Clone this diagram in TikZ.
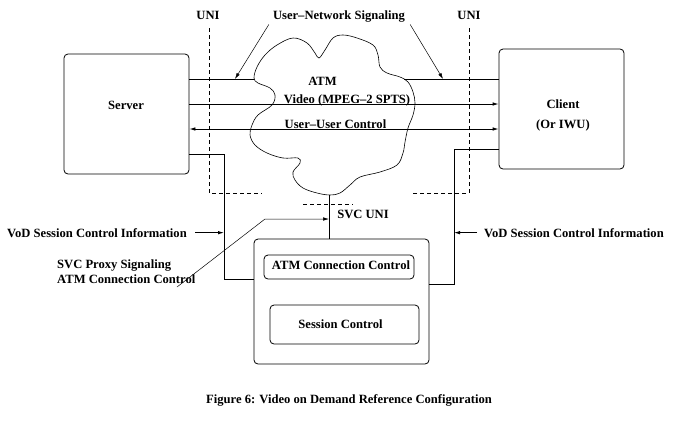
\documentclass[tikz,border=0pt]{standalone}
\usepackage{fontspec}
\setmainfont{Liberation Serif}
\usetikzlibrary{arrows.meta,calc}

\begin{document}
\begin{tikzpicture}[x=1pt,y=-1pt,
  line/.style={draw=black,line width=0.8pt},
  thinline/.style={draw=black,line width=0.5pt},
  dashline/.style={draw=black,line width=0.8pt,dash pattern=on 4pt off 3pt},
  label/.style={font=\bfseries\fontsize{12.6}{15}\selectfont,inner sep=0pt,anchor=base},
  box/.style={draw=black,line width=0.8pt,rounded corners=4pt,inner sep=0pt},
  tip/.style={-{Latex[length=6pt,width=3.5pt]}},
  tips/.style={{Latex[length=6pt,width=3.5pt]}-{Latex[length=6pt,width=3.5pt]}},
]
\useasboundingbox (0,0) rectangle (676,421);

\node[box,minimum width=125pt,minimum height=120pt] (server) at (126.5,114) {};
\node[box,minimum width=125pt,minimum height=120pt] (client) at (561.5,109) {};
\node[box,minimum width=175pt,minimum height=125pt] (svcbox) at (341.5,301.5) {};
\node[box,minimum width=150pt,minimum height=24pt] (atmcc) at (339,267) {};
\node[box,minimum width=149pt,minimum height=39pt] (sessctl) at (344.5,324.5) {};

\node[label] (serverlbl) at (126,109) {Server};
\node[label] (clientlbl) at (563,108) {Client};
\node[label] (iwulbl) at (563,128) {(Or IWU)};
\node[label] (atmcclbl) at (341,269) {ATM Connection Control};
\node[label] (sessctllbl) at (340.5,328) {Session Control};

\draw[line,line width=0.6pt] plot[smooth cycle,tension=0.6] coordinates {
  (254,78) (257,67) (265,55) (277,45) (293,38) (307,43) (315,53) (319,58)
  (325,50) (333,38) (343,35) (357,38) (373,45) (378,55) (380,67) (387,73)
  (400,77) (408,82) (413,92) (415,103) (413,115) (408,128) (405,142) (403,153)
  (397,165) (380,172) (360,177) (350,185) (340,193) (330,195) (317,193) (303,188)
  (295,180) (293,172) (300,163) (298,158) (283,158) (267,153) (255,145) (250,135)
  (252,125) (258,115) (272,105) (275,95) (270,88) (258,83)};
\coordinate (cloudW) at (254,79);
\coordinate (cloudE) at (404,79);
\coordinate (cloudS) at (329,195);
\node[label] (atm) at (322.5,85) {ATM};

\coordinate (vid) at (0,104);
\coordinate (uu) at (0,129);
\draw[line] (server.east |- cloudW) -- (cloudW);
\draw[line] (cloudE) -- (client.west |- cloudE);
\draw[line,tip] (server.east |- vid) -- (client.west |- vid);
\draw[line,tips] (server.east |- uu) -- (client.west |- uu);
\node[label] (videolbl) at (347,103) {Video (MPEG--2 SPTS)};
\node[label] (uulbl) at (335.5,128) {User--User Control};

\coordinate (sbend) at (224,154);
\coordinate (slink) at (0,279);
\coordinate (cbend) at (454,149);
\coordinate (clink) at (0,284);
\draw[line] (server.east |- sbend) -- (sbend) |- (svcbox.west |- slink);
\draw[line] (client.west |- cbend) -- (cbend) |- (svcbox.east |- clink);
\draw[line] (cloudS) -- (cloudS |- svcbox.north);

\draw[dashline] (209,28) -- (209,193) -- (262,193);
\draw[dashline] (469,28) -- (469,193) -- (413,193);
\draw[dashline] (303,204) -- (353,204);

\node[label] (unil) at (208,19.5) {UNI};
\node[label] (unir) at (469,19.5) {UNI};
\node[label] (unsig) at (339,19.5) {User--Network Signaling};
\coordinate (sigL) at (235,79);
\coordinate (sigR) at (443,79);
\draw[thinline,tip] ($(unsig.south west)+(-4,2)$) -- (sigL);
\draw[thinline,tip] ($(unsig.south east)+(5,2)$) -- (sigR);

\node[label] (svcuni) at (363,218) {SVC UNI};
\node[label,anchor=base east] (vodl) at (187,237) {VoD Session Control Information};
\node[label,anchor=base west] (vodr) at (484,237) {VoD Session Control Information};
\draw[line,tip] ($(vodl.east)+(8,0)$) -- (sbend |- vodl.east);
\draw[line,tip] ($(vodr.west)+(-7,0)$) -- (cbend |- vodr.west);

\node[label,anchor=base west,align=left] (proxy) at (57,283) {SVC Proxy Signaling\\ATM Connection Control};
\coordinate (pstart) at (177,287);
\coordinate (pbend) at (265,219);
\draw[thinline,tip] (pstart) -- (pbend) -- (cloudS |- pbend);

\node[label] (caption) at (349,403) {Figure 6: Video on Demand Reference Configuration};
\end{tikzpicture}
\end{document}
